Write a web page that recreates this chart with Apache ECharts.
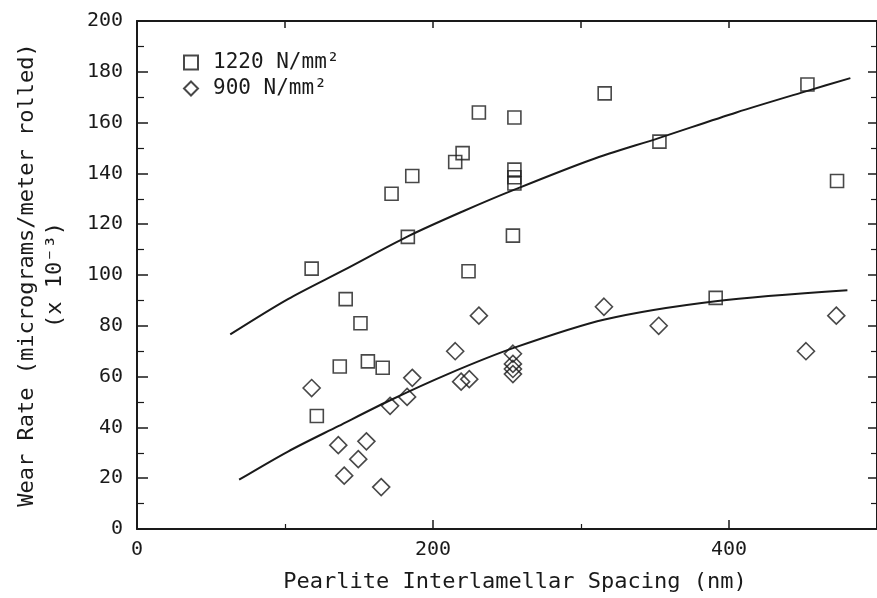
<!DOCTYPE html>
<html>
<head>
<meta charset="utf-8">
<script src="https://cdn.jsdelivr.net/npm/echarts@6/dist/echarts.min.js"></script>
<style>
html, body { margin: 0; padding: 0; background: #fff; }
#main { width: 877px; height: 598px; }
</style>
</head>
<body>
<div id="main"></div>
<script>
// 1220 N/mm2 points (squares)
var hiX = [118, 141, 151, 137, 156, 166, 121.5, 172, 186, 183, 215, 220, 231, 224, 255, 255, 255, 255, 254, 316, 353, 391, 453, 473];
var hiY = [102.5, 90.5, 81, 64, 66, 63.5, 44.5, 132, 139, 115, 144.5, 148, 164, 101.5, 162, 141.5, 138.5, 136, 115.5, 171.5, 152.5, 91, 175, 137];

// 900 N/mm2 points (diamonds)
var loX = [118, 231, 215, 186, 182.5, 171, 219, 224.5, 254, 254, 254, 254, 136, 155, 149.5, 140, 165, 315.5, 352.5, 452, 472.5];
var loY = [55.5, 84, 70, 59.5, 52, 48.5, 58, 59, 69, 65, 63, 61, 33, 34.5, 27.5, 21, 16.5, 87.5, 80, 70, 84];

// fitted curves
var fitHiX = [63, 102, 140, 183, 220, 255, 307, 353, 405, 453, 482];
var fitHiY = [76.6, 90.5, 102, 115.2, 125, 133.6, 145.4, 154, 164, 172.5, 177.5];
var fitLoX = [69, 102, 136, 170, 210, 255, 316, 391, 480];
var fitLoY = [19.4, 30.5, 40.5, 50.4, 61, 71.4, 82.5, 89.7, 94];

var xLabels = [0, 200, 400];
var seriesNames = ['1220 N/mm²', '900 N/mm²'];

var ink = '#1a1a1a';
var font = 'DejaVu Sans Mono';

function pairs(xs, ys) {
    var out = [];
    for (var i = 0; i < xs.length; i++) {
        out.push([xs[i], ys[i]]);
    }
    return out;
}

var myChart = echarts.init(document.getElementById('main'));

var hollow = { color: 'rgba(0,0,0,0)', borderColor: ink, borderWidth: 1.6 };

myChart.setOption({
    animation: false,
    backgroundColor: '#fff',
    grid: { left: 137, top: 21, width: 748, height: 509 },
    legend: {
        orient: 'vertical',
        left: 183,
        top: 52,
        padding: 0,
        itemWidth: 14,
        itemHeight: 14,
        itemGap: 5,
        data: [
            { name: seriesNames[0], icon: 'rect' },
            { name: seriesNames[1], icon: 'diamond' }
        ],
        textStyle: { fontFamily: font, fontSize: 21, lineHeight: 21, color: ink, padding: [0, 0, 0, 10] }
    },
    xAxis: [
        {
            type: 'value',
            position: 'bottom',
            min: 0,
            max: 500,
            interval: 100,
            axisLine: { show: true, onZero: false, lineStyle: { color: ink, width: 2 } },
            axisTick: { inside: true, length: 9, customValues: xLabels, lineStyle: { color: ink, width: 1.5 } },
            axisLabel: { customValues: xLabels, margin: 11, fontFamily: font, fontSize: 20, color: ink },
            splitLine: { show: false },
            name: 'Pearlite Interlamellar Spacing (nm)',
            nameLocation: 'middle',
            nameGap: 42,
            nameTextStyle: { fontFamily: font, fontSize: 22, color: ink, padding: [0, 0, 0, 16] }
        },
        {
            type: 'value',
            position: 'bottom',
            min: 0,
            max: 500,
            interval: 100,
            axisLine: { show: false },
            axisTick: { inside: true, length: 5, customValues: [100, 300, 500], lineStyle: { color: ink, width: 1.2 } },
            axisLabel: { show: false },
            splitLine: { show: false }
        },
        {
            type: 'value',
            position: 'top',
            min: 0,
            max: 500,
            interval: 100,
            axisLine: { show: true, onZero: false, lineStyle: { color: ink, width: 2 } },
            axisTick: { inside: true, length: 7, lineStyle: { color: ink, width: 1.5 } },
            axisLabel: { show: false },
            splitLine: { show: false }
        }
    ],
    yAxis: [
        {
            type: 'value',
            position: 'left',
            min: 0,
            max: 200,
            interval: 20,
            axisLine: { show: true, onZero: false, lineStyle: { color: ink, width: 2 } },
            axisTick: { inside: true, length: 11, lineStyle: { color: ink, width: 1.5 } },
            minorTick: { show: true, splitNumber: 2, length: 7, lineStyle: { color: ink, width: 1.2 } },
            axisLabel: { margin: 14, fontFamily: font, fontSize: 20, color: ink },
            splitLine: { show: false },
            name: 'Wear Rate (micrograms/meter rolled)\n(x 10⁻³)',
            nameLocation: 'middle',
            nameRotate: 90,
            nameGap: 68,
            nameTextStyle: { fontFamily: font, fontSize: 22, lineHeight: 28, color: ink, align: 'center' }
        },
        {
            type: 'value',
            position: 'right',
            min: 0,
            max: 200,
            interval: 20,
            axisLine: { show: true, onZero: false, lineStyle: { color: ink, width: 2 } },
            axisTick: { inside: true, length: 9, lineStyle: { color: ink, width: 1.5 } },
            minorTick: { show: true, splitNumber: 2, length: 6, lineStyle: { color: ink, width: 1.2 } },
            axisLabel: { show: false },
            splitLine: { show: false }
        }
    ],
    series: [
        {
            name: seriesNames[0],
            type: 'scatter',
            symbol: 'rect',
            symbolSize: 13,
            itemStyle: hollow,
            data: pairs(hiX, hiY),
            z: 3
        },
        {
            name: seriesNames[1],
            type: 'scatter',
            symbol: 'diamond',
            symbolSize: 17,
            itemStyle: hollow,
            data: pairs(loX, loY),
            z: 3
        },
        {
            name: 'fit1220',
            type: 'line',
            smooth: 0.3,
            showSymbol: false,
            silent: true,
            lineStyle: { color: ink, width: 2 },
            data: pairs(fitHiX, fitHiY),
            z: 2
        },
        {
            name: 'fit900',
            type: 'line',
            smooth: 0.3,
            showSymbol: false,
            silent: true,
            lineStyle: { color: ink, width: 2 },
            data: pairs(fitLoX, fitLoY),
            z: 2
        }
    ]
});
</script>
</body>
</html>
